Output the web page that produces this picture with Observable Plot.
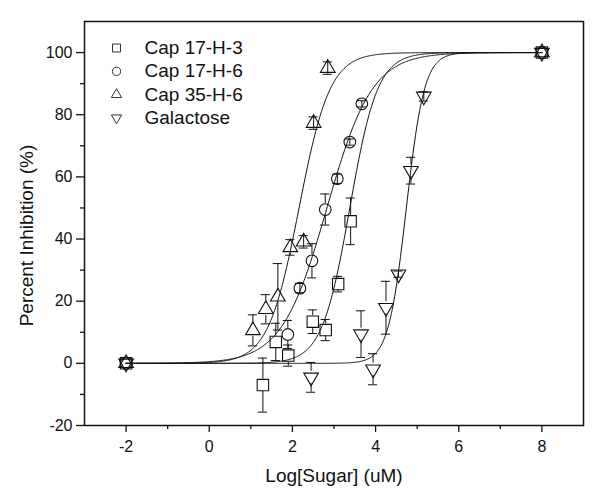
<!DOCTYPE html>
<html>
<head>
<meta charset="utf-8">
<script src="https://cdn.jsdelivr.net/npm/d3@7"></script>
<script src="https://cdn.jsdelivr.net/npm/@observablehq/plot@0.6"></script>
<style>
  html, body { margin: 0; padding: 0; background: #fff; }
  #chart svg { display: block; }
</style>
</head>
<body>
<div id="chart"></div>
<script>
// ---- Data ----
const seriesNames = ["Cap 17-H-3", "Cap 17-H-6", "Cap 35-H-6", "Galactose"];

const cap17H3_x   = [-2, 1.29, 1.60, 1.90, 2.49, 2.80, 3.10, 3.40, 8];
const cap17H3_y   = [0, -7.0, 6.9, 2.5, 13.4, 10.7, 25.5, 45.7, 100];
const cap17H3_err = [0, 8.7, 6.0, 3.4, 3.8, 3.4, 2.5, 7.5, 0];

const cap17H6_x   = [-2, 1.89, 2.18, 2.47, 2.79, 3.08, 3.38, 3.67, 8];
const cap17H6_y   = [0, 9.3, 24.2, 33.0, 49.5, 59.4, 71.2, 83.5, 100];
const cap17H6_err = [0, 4.5, 1.5, 5.5, 5.0, 1.5, 1.0, 1.0, 0];

const cap35H6_x   = [-2, 1.05, 1.36, 1.65, 1.95, 2.27, 2.51, 2.85, 8];
const cap35H6_y   = [0, 10.6, 17.4, 21.4, 37.3, 39.1, 77.3, 95.0, 100];
const cap35H6_err = [0, 5.0, 4.7, 10.7, 2.5, 2.0, 2.0, 2.0, 0];

const galactose_x   = [-2, 2.45, 3.65, 3.94, 4.25, 4.55, 4.85, 5.16, 8];
const galactose_y   = [0, -4.5, 9.4, -1.9, 17.9, 28.7, 62.0, 85.9, 100];
const galactose_err = [0, 4.8, 7.5, 5.0, 8.5, 1.0, 4.3, 1.5, 0];

// Dose-response fit parameters (log EC50, Hill slope) estimated from the drawn curves
const fitLogEC50 = [3.38, 2.83, 2.16, 4.74];
const fitHill    = [1.3, 0.8, 1.17, 2.0];

const xMajorTicks = [-2, 0, 2, 4, 6, 8];
const xMinorTicks = [-1, 1, 3, 5, 7];
const yMajorTicks = [-20, 0, 20, 40, 60, 80, 100];
const yMinorTicks = [-10, 10, 30, 50, 70, 90];

const xTitle = "Log[Sugar] (uM)";
const yTitle = "Percent Inhibition (%)";

// ---- Build tables ----
const xs = [cap17H3_x, cap17H6_x, cap35H6_x, galactose_x];
const ys = [cap17H3_y, cap17H6_y, cap35H6_y, galactose_y];
const es = [cap17H3_err, cap17H6_err, cap35H6_err, galactose_err];

const rows = [];
seriesNames.forEach((name, i) => {
  xs[i].forEach((x, j) => rows.push({series: name, x, y: ys[i][j], err: es[i][j]}));
});
const errRows = rows.filter(d => d.err > 0);
const bigErr = errRows.filter(d => d.err > 2);
const smallErr = errRows.filter(d => d.err <= 2);

const curveX = d3.range(-2, 8.0001, 0.02);
const curveRows = seriesNames.flatMap((name, i) =>
  curveX.map(x => ({series: name, x, y: 100 / (1 + Math.pow(10, fitHill[i] * (fitLogEC50[i] - x)))}))
);

// ---- Symbols ----
const S3 = Math.sqrt(3);
const symSquare = {draw(ctx, size) { const r = Math.sqrt(size / Math.PI); const h = r * 0.95; ctx.rect(-h, -h, 2 * h, 2 * h); }};
const symCircle = {draw(ctx, size) { const r = Math.sqrt(size / Math.PI) * 0.97; ctx.moveTo(r, 0); ctx.arc(0, 0, r, 0, 2 * Math.PI); }};
const symTriUp = {draw(ctx, size) {
  const r = Math.sqrt(size / Math.PI); const hw = 1.22 * r; const h = hw * S3;
  ctx.moveTo(0, -2 * h / 3); ctx.lineTo(hw, h / 3); ctx.lineTo(-hw, h / 3); ctx.closePath();
}};
const symTriDown = {draw(ctx, size) {
  const r = Math.sqrt(size / Math.PI); const hw = 1.22 * r; const h = hw * S3;
  ctx.moveTo(0, 2 * h / 3); ctx.lineTo(hw, -h / 3); ctx.lineTo(-hw, -h / 3); ctx.closePath();
}};
const symbols = [symSquare, symCircle, symTriUp, symTriDown];

const font = "'Liberation Sans', Arial, Helvetica, sans-serif";
const fmt = d => String(d);

const marks = [];

// axes
marks.push(Plot.axisX({ticks: xMajorTicks, tickSize: 7, tickPadding: 8, tickFormat: fmt, fontSize: 16, strokeWidth: 1.3, label: null}));
marks.push(Plot.axisX({ticks: xMinorTicks, tickSize: 4, tickFormat: () => "", strokeWidth: 1.3, label: null}));
marks.push(Plot.axisY({ticks: yMajorTicks, tickSize: 8, tickPadding: 4, tickFormat: fmt, fontSize: 16, strokeWidth: 1.3, label: null}));
marks.push(Plot.axisY({ticks: yMinorTicks, tickSize: 4, tickFormat: () => "", strokeWidth: 1.3, label: null}));

// axis titles
marks.push(Plot.text([xTitle], {text: d => d, frameAnchor: "bottom", textAnchor: "middle", lineAnchor: "middle", dy: 50, fontSize: 19, fill: "#111"}));
marks.push(Plot.text([yTitle], {text: d => d, frameAnchor: "left", textAnchor: "middle", lineAnchor: "middle", rotate: -90, dx: -58, dy: 12, fontSize: 19, fill: "#111"}));

// fitted curves
marks.push(Plot.line(curveRows, {x: "x", y: "y", z: "series", stroke: "#111", strokeWidth: 1}));

// error bars
marks.push(Plot.ruleX(bigErr, {x: "x", y1: d => d.y + d.err, y2: "y", insetBottom: 6, stroke: "#111", strokeWidth: 1}));
marks.push(Plot.ruleX(bigErr, {x: "x", y1: "y", y2: d => d.y - d.err, insetTop: 6, stroke: "#111", strokeWidth: 1}));
marks.push(Plot.ruleX(smallErr, {x: "x", y1: d => d.y + d.err, y2: d => d.y - d.err, stroke: "#111", strokeWidth: 1}));
marks.push(Plot.ruleY(errRows, {y: d => d.y + d.err, x1: d => d.x - 0.11, x2: d => d.x + 0.11, stroke: "#111", strokeWidth: 1}));
marks.push(Plot.ruleY(errRows, {y: d => d.y - d.err, x1: d => d.x - 0.11, x2: d => d.x + 0.11, stroke: "#111", strokeWidth: 1}));

// data symbols
seriesNames.forEach((name, i) => {
  marks.push(Plot.dot(rows.filter(d => d.series === name), {x: "x", y: "y", symbol: symbols[i], r: 6, fill: "none", stroke: "#111", strokeWidth: 1.1}));
});

// legend (inside the frame, top-left)
seriesNames.forEach((name, i) => {
  const dy = 26.5 + 23.3 * i;
  marks.push(Plot.dot([name], {frameAnchor: "top-left", dx: 32, dy, symbol: symbols[i], r: 4.2, fill: "none", stroke: "#333", strokeWidth: 1}));
  marks.push(Plot.text([name], {text: d => d, frameAnchor: "top-left", dx: 60, dy, textAnchor: "start", lineAnchor: "middle", fontSize: 19, fill: "#111"}));
});

// frame
marks.push(Plot.frame({stroke: "#111", strokeWidth: 1.5}));

const chart = Plot.plot({
  width: 600,
  height: 501,
  marginLeft: 84,
  marginRight: 17,
  marginTop: 21,
  marginBottom: 76,
  style: {fontFamily: font, background: "#fff", color: "#111", overflow: "visible"},
  x: {domain: [-3, 9], axis: null},
  y: {domain: [-20, 110], axis: null},
  marks
});
document.getElementById("chart").appendChild(chart);
</script>
</body>
</html>
